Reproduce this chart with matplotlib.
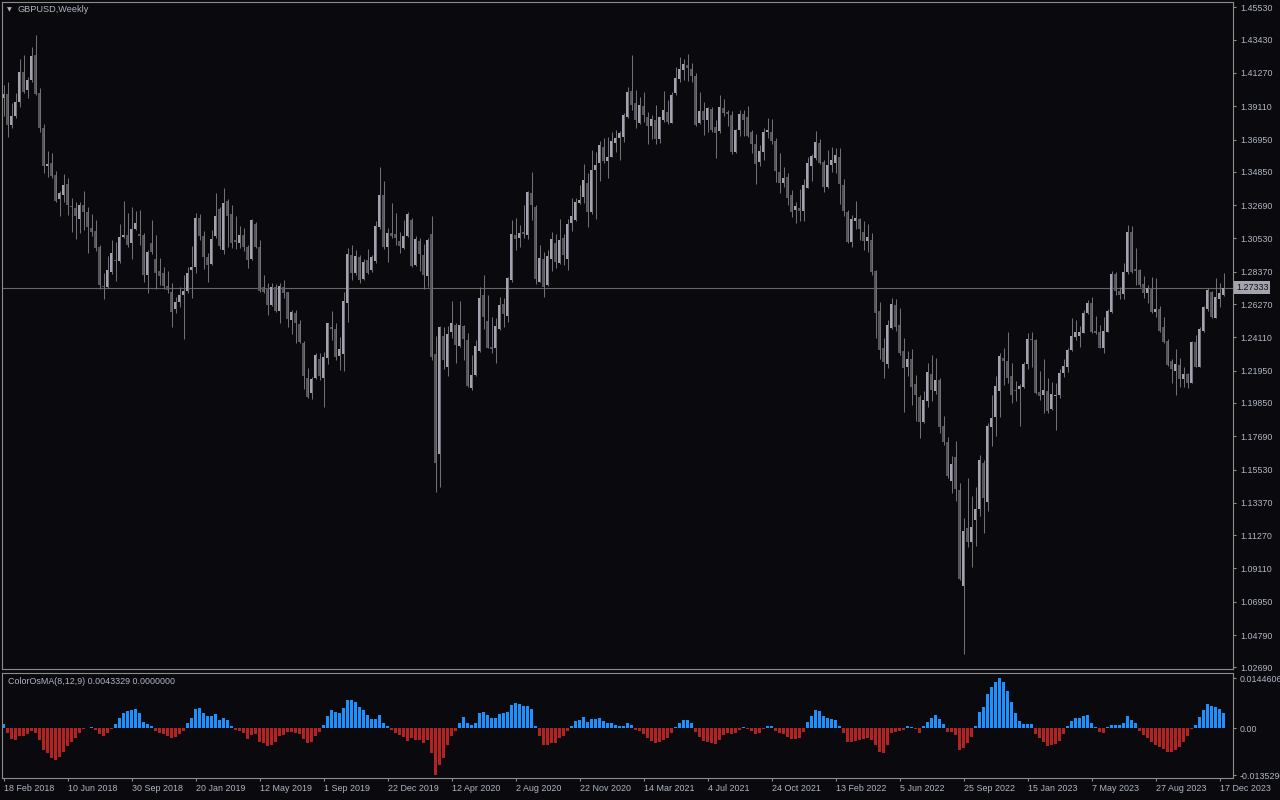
import matplotlib
matplotlib.use("Agg")
import matplotlib.pyplot as plt
import matplotlib.transforms as mtransforms
import numpy as np
import pandas as pd

# GBPUSD weekly bars, first bar is the week of 18 Feb 2018
first_week = "2018-02-18"
symbol_label = "GBPUSD,Weekly"
indicator_label = "ColorOsMA(8,12,9) 0.0043329 0.0000000"
last_price = 1.27333

opens = [
    1.3962, 1.3988, 1.3789, 1.3848, 1.3941, 1.4136, 1.4017, 1.4081, 1.4244, 1.3995,
    1.3768, 1.3525, 1.3540, 1.3465, 1.3311, 1.3337, 1.3406, 1.3263, 1.3248, 1.3179,
    1.3270, 1.3224, 1.3118, 1.3101, 1.2998, 1.2744, 1.2740, 1.2837, 1.2915, 1.2906,
    1.3062, 1.3073, 1.3025, 1.3114, 1.3082, 1.3075, 1.2815, 1.3021, 1.2917, 1.2839,
    1.2828, 1.2744, 1.2705, 1.2597, 1.2640, 1.2686, 1.2712, 1.2848, 1.2870, 1.3183,
    1.3069, 1.2930, 1.2885, 1.3069, 1.3244, 1.2978, 1.3296, 1.3209, 1.3043, 1.3021,
    1.3075, 1.2999, 1.2917, 1.3147, 1.2995, 1.2735, 1.2733, 1.2621, 1.2740, 1.2582,
    1.2735, 1.2703, 1.2523, 1.2567, 1.2495, 1.2372, 1.2145, 1.2047, 1.2149, 1.2270,
    1.2145, 1.2274, 1.2480, 1.2465, 1.2292, 1.2303, 1.2632, 1.2945, 1.2826, 1.2930,
    1.2787, 1.2913, 1.2848, 1.2909, 1.3129, 1.3335, 1.2995, 1.3086, 1.3079, 1.3038,
    1.2993, 1.3069, 1.3172, 1.2880, 1.3036, 1.2945, 1.2809, 1.3081, 1.2300, 1.1653,
    1.2419, 1.2220, 1.2447, 1.2491, 1.2357, 1.2484, 1.2393, 1.2084, 1.2166, 1.2324,
    1.2685, 1.2517, 1.2346, 1.2344, 1.2465, 1.2627, 1.2549, 1.2783, 1.3075, 1.3058,
    1.3097, 1.3075, 1.3346, 1.3259, 1.2772, 1.2919, 1.2750, 1.2919, 1.3025, 1.2895,
    1.3058, 1.2919, 1.3155, 1.3172, 1.3281, 1.3324, 1.3415, 1.3226, 1.3497, 1.3545,
    1.3648, 1.3555, 1.3583, 1.3670, 1.3703, 1.3713, 1.3843, 1.4010, 1.3934, 1.3800,
    1.3912, 1.3839, 1.3783, 1.3822, 1.3698, 1.3822, 1.3876, 1.3804, 1.3995, 1.4088,
    1.4146, 1.4179, 1.4153, 1.4107, 1.3804, 1.3880, 1.3822, 1.3891, 1.3778, 1.3750,
    1.3897, 1.3876, 1.3854, 1.3616, 1.3757, 1.3858, 1.3843, 1.3746, 1.3666, 1.3551,
    1.3616, 1.3746, 1.3746, 1.3687, 1.3486, 1.3410, 1.3454, 1.3335, 1.3237, 1.3248,
    1.3233, 1.3382, 1.3523, 1.3573, 1.3670, 1.3547, 1.3386, 1.3531, 1.3543, 1.3583,
    1.3400, 1.3225, 1.3033, 1.3169, 1.3181, 1.3096, 1.3035, 1.3046, 1.2839, 1.2582,
    1.2342, 1.2240, 1.2474, 1.2622, 1.2492, 1.2320, 1.2219, 1.2273, 1.2108, 1.2023,
    1.1862, 1.2000, 1.2173, 1.2063, 1.2135, 1.1833, 1.1732, 1.1480, 1.1632, 1.1419,
    1.0800, 1.1174, 1.1084, 1.1223, 1.1300, 1.1598, 1.1340, 1.1830, 1.1895, 1.2063,
    1.2280, 1.2258, 1.2157, 1.2068, 1.2079, 1.2090, 1.2240, 1.2400, 1.2394, 1.2054,
    1.2037, 1.2060, 1.1946, 1.2032, 1.2040, 1.2178, 1.2221, 1.2329, 1.2416, 1.2422,
    1.2442, 1.2567, 1.2636, 1.2452, 1.2448, 1.2340, 1.2448, 1.2574, 1.2822, 1.2714,
    1.2693, 1.2833, 1.3093, 1.2855, 1.2848, 1.2755, 1.2697, 1.2729, 1.2578, 1.2595,
    1.2476, 1.2388, 1.2258, 1.2195, 1.2230, 1.2141, 1.2171, 1.2117, 1.2379, 1.2221,
    1.2455, 1.2593, 1.2703, 1.2539, 1.2660, 1.2686,
]

highs = [
    1.4049, 1.4071, 1.3930, 1.3995, 1.4216, 1.4244, 1.4103, 1.4298, 1.4374, 1.4027,
    1.3794, 1.3621, 1.3605, 1.3491, 1.3361, 1.3469, 1.3443, 1.3313, 1.3287, 1.3292,
    1.3361, 1.3259, 1.3211, 1.3170, 1.3010, 1.2826, 1.2939, 1.3043, 1.3028, 1.3144,
    1.3296, 1.3220, 1.3255, 1.3231, 1.3237, 1.3086, 1.2978, 1.3173, 1.3077, 1.2924,
    1.2865, 1.2839, 1.2761, 1.2675, 1.2740, 1.2815, 1.2865, 1.3004, 1.3216, 1.3211,
    1.3101, 1.2956, 1.3108, 1.3350, 1.3259, 1.3380, 1.3309, 1.3270, 1.3198, 1.3134,
    1.3118, 1.3010, 1.3177, 1.3162, 1.3043, 1.2816, 1.2761, 1.2761, 1.2757, 1.2761,
    1.2783, 1.2707, 1.2588, 1.2588, 1.2523, 1.2387, 1.2210, 1.2155, 1.2307, 1.2307,
    1.2313, 1.2506, 1.2582, 1.2502, 1.2415, 1.2703, 1.2989, 1.3010, 1.2978, 1.2945,
    1.2917, 1.2982, 1.2945, 1.3166, 1.3514, 1.3426, 1.3118, 1.3281, 1.3216, 1.3097,
    1.3172, 1.3227, 1.3183, 1.3069, 1.3053, 1.3014, 1.3053, 1.3198, 1.2419, 1.2484,
    1.2480, 1.2484, 1.2649, 1.2506, 1.2649, 1.2491, 1.2437, 1.2296, 1.2393, 1.2735,
    1.2815, 1.2685, 1.2545, 1.2534, 1.2670, 1.2664, 1.2805, 1.3172, 1.3183, 1.3140,
    1.3270, 1.3360, 1.3486, 1.3270, 1.3010, 1.2967, 1.2978, 1.3097, 1.3081, 1.3177,
    1.3081, 1.3177, 1.3313, 1.3313, 1.3400, 1.3536, 1.3475, 1.3627, 1.3616, 1.3685,
    1.3703, 1.3709, 1.3746, 1.3757, 1.3752, 1.3869, 1.4038, 1.4244, 1.4016, 1.3973,
    1.4006, 1.3876, 1.3854, 1.3919, 1.3843, 1.4010, 1.3951, 1.4006, 1.4168, 1.4233,
    1.4218, 1.4250, 1.4189, 1.4129, 1.4006, 1.3941, 1.3908, 1.3908, 1.3822, 1.3984,
    1.3958, 1.3886, 1.3882, 1.3763, 1.3886, 1.3886, 1.3912, 1.3757, 1.3731, 1.3659,
    1.3767, 1.3832, 1.3826, 1.3703, 1.3605, 1.3514, 1.3475, 1.3367, 1.3291, 1.3371,
    1.3436, 1.3584, 1.3601, 1.3750, 1.3696, 1.3562, 1.3628, 1.3648, 1.3643, 1.3639,
    1.3438, 1.3236, 1.3207, 1.3297, 1.3185, 1.3167, 1.3147, 1.3089, 1.2845, 1.2642,
    1.2410, 1.2521, 1.2664, 1.2660, 1.2599, 1.2407, 1.2320, 1.2336, 1.2168, 1.2039,
    1.2061, 1.2242, 1.2295, 1.2275, 1.2146, 1.1900, 1.1766, 1.1643, 1.1737, 1.1464,
    1.1236, 1.1498, 1.1381, 1.1437, 1.1647, 1.1616, 1.1855, 1.2034, 1.2157, 1.2309,
    1.2342, 1.2443, 1.2246, 1.2128, 1.2106, 1.2248, 1.2442, 1.2448, 1.2398, 1.2195,
    1.2268, 1.2149, 1.2119, 1.2113, 1.2204, 1.2268, 1.2344, 1.2535, 1.2524, 1.2485,
    1.2589, 1.2654, 1.2675, 1.2550, 1.2491, 1.2545, 1.2593, 1.2844, 1.2838, 1.2740,
    1.2896, 1.3141, 1.3136, 1.2993, 1.2853, 1.2809, 1.2751, 1.2801, 1.2794, 1.2615,
    1.2545, 1.2398, 1.2268, 1.2333, 1.2275, 1.2217, 1.2178, 1.2390, 1.2426, 1.2481,
    1.2615, 1.2729, 1.2714, 1.2794, 1.2762, 1.2827,
]

lows = [
    1.3848, 1.3709, 1.3768, 1.3833, 1.3908, 1.3995, 1.3962, 1.4071, 1.3984, 1.3746,
    1.3480, 1.3454, 1.3443, 1.3292, 1.3201, 1.3292, 1.3205, 1.3097, 1.3047, 1.3090,
    1.3108, 1.2956, 1.3071, 1.2971, 1.2723, 1.2657, 1.2729, 1.2822, 1.2779, 1.2896,
    1.3054, 1.3000, 1.2921, 1.3108, 1.3010, 1.2772, 1.2697, 1.2952, 1.2723, 1.2751,
    1.2723, 1.2697, 1.2476, 1.2567, 1.2610, 1.2398, 1.2697, 1.2664, 1.2826, 1.3043,
    1.2852, 1.2772, 1.2880, 1.3053, 1.2982, 1.2952, 1.2995, 1.2993, 1.2982, 1.2989,
    1.2973, 1.2863, 1.2913, 1.2989, 1.2707, 1.2701, 1.2556, 1.2614, 1.2577, 1.2502,
    1.2664, 1.2480, 1.2432, 1.2376, 1.2372, 1.2077, 1.2015, 1.2013, 1.2138, 1.2134,
    1.1956, 1.2235, 1.2393, 1.2264, 1.2199, 1.2194, 1.2512, 1.2783, 1.2816, 1.2766,
    1.2783, 1.2820, 1.2837, 1.2896, 1.3112, 1.2982, 1.2902, 1.3053, 1.3010, 1.2956,
    1.2982, 1.3060, 1.2870, 1.2874, 1.2843, 1.2722, 1.2735, 1.2263, 1.1409, 1.1441,
    1.2203, 1.2160, 1.2404, 1.2246, 1.2350, 1.2263, 1.2090, 1.2069, 1.2160, 1.2318,
    1.2463, 1.2339, 1.2311, 1.2246, 1.2458, 1.2476, 1.2512, 1.2772, 1.2978, 1.3000,
    1.3058, 1.3049, 1.3172, 1.2757, 1.2768, 1.2675, 1.2744, 1.2843, 1.2859, 1.2887,
    1.2880, 1.2848, 1.3101, 1.3166, 1.3276, 1.3285, 1.3129, 1.3210, 1.3179, 1.3426,
    1.3540, 1.3447, 1.3579, 1.3612, 1.3562, 1.3677, 1.3832, 1.3886, 1.3767, 1.3796,
    1.3811, 1.3666, 1.3696, 1.3666, 1.3670, 1.3811, 1.3796, 1.3800, 1.3984, 1.4070,
    1.4081, 1.4075, 1.4070, 1.3783, 1.3796, 1.3724, 1.3746, 1.3746, 1.3573, 1.3735,
    1.3850, 1.3783, 1.3599, 1.3605, 1.3720, 1.3720, 1.3713, 1.3605, 1.3406, 1.3523,
    1.3562, 1.3703, 1.3664, 1.3421, 1.3345, 1.3384, 1.3270, 1.3190, 1.3155, 1.3168,
    1.3168, 1.3378, 1.3428, 1.3562, 1.3534, 1.3356, 1.3378, 1.3487, 1.3480, 1.3274,
    1.3201, 1.3024, 1.2999, 1.3111, 1.3044, 1.2979, 1.2968, 1.2816, 1.2410, 1.2273,
    1.2150, 1.2213, 1.2465, 1.2454, 1.2298, 1.1927, 1.2157, 1.1974, 1.1871, 1.1759,
    1.1855, 1.1956, 1.2000, 1.2045, 1.1793, 1.1714, 1.1498, 1.1401, 1.1352, 1.0834,
    1.0353, 1.1051, 1.0921, 1.1057, 1.1252, 1.1144, 1.1285, 1.1705, 1.1770, 1.1895,
    1.2101, 1.2112, 1.1985, 1.2000, 1.1837, 1.2080, 1.2204, 1.2221, 1.2043, 1.2004,
    1.1918, 1.1918, 1.1940, 1.1810, 1.2015, 1.2156, 1.2188, 1.2325, 1.2394, 1.2351,
    1.2437, 1.2563, 1.2442, 1.2433, 1.2340, 1.2312, 1.2444, 1.2567, 1.2684, 1.2660,
    1.2660, 1.2822, 1.2827, 1.2751, 1.2736, 1.2664, 1.2636, 1.2567, 1.2545, 1.2448,
    1.2372, 1.2227, 1.2113, 1.2037, 1.2091, 1.2091, 1.2080, 1.2113, 1.2217, 1.2217,
    1.2448, 1.2584, 1.2535, 1.2535, 1.2610, 1.2682,
]

closes = [
    1.3988, 1.3789, 1.3848, 1.3941, 1.4136, 1.4006, 1.4081, 1.4237, 1.3991, 1.3772,
    1.3525, 1.3534, 1.3458, 1.3296, 1.3350, 1.3400, 1.3270, 1.3259, 1.3201, 1.3270,
    1.3227, 1.3129, 1.3097, 1.2993, 1.2751, 1.2738, 1.2848, 1.2956, 1.2909, 1.3060,
    1.3073, 1.3010, 1.3112, 1.3151, 1.3069, 1.2815, 1.2963, 1.2967, 1.2831, 1.2809,
    1.2744, 1.2718, 1.2577, 1.2640, 1.2683, 1.2712, 1.2826, 1.2865, 1.3183, 1.3071,
    1.2935, 1.2880, 1.3049, 1.3198, 1.3004, 1.3285, 1.3198, 1.3025, 1.3030, 1.3075,
    1.2995, 1.2913, 1.3172, 1.2995, 1.2712, 1.2707, 1.2621, 1.2740, 1.2582, 1.2744,
    1.2696, 1.2528, 1.2573, 1.2502, 1.2383, 1.2160, 1.2021, 1.2140, 1.2296, 1.2162,
    1.2285, 1.2502, 1.2467, 1.2285, 1.2335, 1.2647, 1.2950, 1.2826, 1.2939, 1.2783,
    1.2902, 1.2826, 1.2930, 1.3134, 1.3335, 1.2995, 1.3086, 1.3069, 1.3053, 1.3004,
    1.3069, 1.3211, 1.2876, 1.3049, 1.2952, 1.2815, 1.3043, 1.2285, 1.1597, 1.2480,
    1.2263, 1.2432, 1.2502, 1.2361, 1.2491, 1.2402, 1.2097, 1.2166, 1.2354, 1.2668,
    1.2545, 1.2344, 1.2333, 1.2484, 1.2621, 1.2562, 1.2798, 1.3081, 1.3049, 1.3090,
    1.3081, 1.3356, 1.3270, 1.2787, 1.2924, 1.2735, 1.2939, 1.3049, 1.2902, 1.3043,
    1.2945, 1.3146, 1.3201, 1.3287, 1.3302, 1.3432, 1.3226, 1.3497, 1.3529, 1.3659,
    1.3558, 1.3583, 1.3687, 1.3703, 1.3739, 1.3854, 1.4006, 1.3919, 1.3822, 1.3919,
    1.3854, 1.3783, 1.3828, 1.3698, 1.3839, 1.3886, 1.3811, 1.3984, 1.4092, 1.4153,
    1.4185, 1.4161, 1.4107, 1.3789, 1.3880, 1.3822, 1.3897, 1.3757, 1.3739, 1.3904,
    1.3865, 1.3861, 1.3616, 1.3757, 1.3861, 1.3822, 1.3718, 1.3666, 1.3536, 1.3620,
    1.3746, 1.3757, 1.3687, 1.3493, 1.3410, 1.3443, 1.3317, 1.3226, 1.3263, 1.3231,
    1.3400, 1.3540, 1.3588, 1.3681, 1.3540, 1.3389, 1.3531, 1.3563, 1.3594, 1.3409,
    1.3230, 1.3029, 1.3181, 1.3185, 1.3111, 1.3035, 1.3062, 1.2832, 1.2570, 1.2331,
    1.2253, 1.2492, 1.2626, 1.2481, 1.2307, 1.2213, 1.2273, 1.2090, 1.2034, 1.1862,
    1.2005, 1.2184, 1.2072, 1.2135, 1.1826, 1.1732, 1.1513, 1.1592, 1.1424, 1.0843,
    1.1156, 1.1084, 1.1180, 1.1296, 1.1616, 1.1368, 1.1837, 1.1889, 1.2094, 1.2291,
    1.2258, 1.2150, 1.2034, 1.2063, 1.2097, 1.2240, 1.2400, 1.2394, 1.2048, 1.2033,
    1.2069, 1.1935, 1.2041, 1.2036, 1.2178, 1.2227, 1.2329, 1.2420, 1.2444, 1.2448,
    1.2567, 1.2636, 1.2448, 1.2442, 1.2344, 1.2452, 1.2582, 1.2822, 1.2714, 1.2686,
    1.2833, 1.3093, 1.2833, 1.2844, 1.2751, 1.2697, 1.2729, 1.2574, 1.2593, 1.2455,
    1.2383, 1.2232, 1.2204, 1.2238, 1.2139, 1.2171, 1.2117, 1.2379, 1.2221, 1.2465,
    1.2606, 1.2719, 1.2545, 1.2671, 1.2697, 1.27333,
]

# OsMA(8,12,9) histogram
osma = [
    0.00120, -0.00148, -0.00311, -0.00340, -0.00225, -0.00216, -0.00168, -0.00081, -0.00148, -0.00340,
    -0.00627, -0.00723, -0.00848, -0.00915, -0.00838, -0.00675, -0.00513, -0.00388, -0.00292, -0.00129,
    -0.00030, 0.00010, 0.00030, -0.00053, -0.00168, -0.00225, -0.00148, -0.00034, 0.00120, 0.00283,
    0.00426, 0.00484, 0.00522, 0.00541, 0.00445, 0.00187, 0.00120, 0.00062, -0.00072, -0.00129,
    -0.00177, -0.00225, -0.00273, -0.00244, -0.00177, -0.00081, 0.00139, 0.00283, 0.00541, 0.00570,
    0.00445, 0.00350, 0.00350, 0.00398, 0.00235, 0.00283, 0.00235, 0.00062, -0.00053, -0.00081,
    -0.00148, -0.00311, -0.00196, -0.00177, -0.00388, -0.00436, -0.00503, -0.00484, -0.00388, -0.00216,
    -0.00196, -0.00101, -0.00101, -0.00129, -0.00168, -0.00321, -0.00436, -0.00388, -0.00216, -0.00101,
    0.00091, 0.00350, 0.00522, 0.00474, 0.00445, 0.00570, 0.00810, 0.00810, 0.00762, 0.00618,
    0.00522, 0.00378, 0.00254, 0.00254, 0.00378, 0.00158, 0.00062, -0.00053, -0.00129, -0.00196,
    -0.00263, -0.00359, -0.00292, -0.00340, -0.00340, -0.00417, -0.00340, -0.00704, -0.013529, -0.01059,
    -0.00848, -0.00484, -0.00225, -0.00072, 0.00158, 0.00331, 0.00158, 0.00091, 0.00158, 0.00426,
    0.00474, 0.00378, 0.00283, 0.00283, 0.00398, 0.00426, 0.00474, 0.00666, 0.00733, 0.00695,
    0.00637, 0.00637, 0.00541, 0.00062, -0.00225, -0.00484, -0.00484, -0.00417, -0.00417, -0.00292,
    -0.00225, -0.00072, 0.00062, 0.00216, 0.00235, 0.00311, 0.00187, 0.00254, 0.00263, 0.00283,
    0.00216, 0.00139, 0.00139, 0.00091, 0.00072, 0.00072, 0.00158, 0.00100, -0.00040, -0.00081,
    -0.00168, -0.00292, -0.00359, -0.00417, -0.00388, -0.00340, -0.00273, -0.00129, 0.00043, 0.00158,
    0.00235, 0.00235, 0.00158, -0.00101, -0.00244, -0.00369, -0.00388, -0.00436, -0.00455, -0.00340,
    -0.00196, -0.00129, -0.00168, -0.00129, -0.00053, 0.00043, -0.00034, -0.00072, -0.00168, -0.00129,
    -0.00034, 0.00062, 0.00062, -0.00072, -0.00148, -0.00177, -0.00244, -0.00321, -0.00311, -0.00273,
    -0.00101, 0.00187, 0.00350, 0.00522, 0.00503, 0.00350, 0.00283, 0.00263, 0.00235, 0.00062,
    -0.00148, -0.00407, -0.00407, -0.00359, -0.00340, -0.00321, -0.00292, -0.00340, -0.00484, -0.00675,
    -0.00723, -0.00484, -0.00148, -0.00101, -0.00072, -0.00053, 0.00062, 0.00024, -0.00034, -0.00129,
    0.00062, 0.00187, 0.00283, 0.00378, 0.00254, 0.00120, -0.00101, -0.00120, -0.00196, -0.00627,
    -0.00560, -0.00417, -0.00244, 0.00062, 0.00474, 0.00599, 0.00982, 0.01174, 0.01317, 0.0144606,
    0.01327, 0.01078, 0.00762, 0.00426, 0.00216, 0.00120, 0.00120, 0.00120, -0.00177, -0.00292,
    -0.00407, -0.00503, -0.00484, -0.00455, -0.00359, -0.00168, 0.00062, 0.00216, 0.00283, 0.00302,
    0.00350, 0.00378, 0.00158, 0.00043, -0.00101, -0.00148, 0.00043, 0.00091, 0.00091, 0.00091,
    0.00158, 0.00350, 0.00235, 0.00158, -0.00072, -0.00196, -0.00292, -0.00388, -0.00484, -0.00551,
    -0.00608, -0.00675, -0.00675, -0.00627, -0.00551, -0.00388, -0.00225, -0.00030, 0.00091, 0.00331,
    0.00522, 0.00695, 0.00647, 0.00618, 0.00541, 0.00433,
]

price_ticks = [1.45530, 1.43430, 1.41270, 1.39110, 1.36950, 1.34850, 1.32690,
               1.30530, 1.28370, 1.26270, 1.24110, 1.21950, 1.19850, 1.17690,
               1.15530, 1.13370, 1.11270, 1.09110, 1.06950, 1.04790, 1.02690]

osma_ticks = [0.0144606, 0.0, -0.0135290]
osma_tick_labels = ["0.0144606", "0.00", "-0.0135290"]

date_labels = ["18 Feb 2018", "10 Jun 2018", "30 Sep 2018", "20 Jan 2019",
               "12 May 2019", "1 Sep 2019", "22 Dec 2019", "12 Apr 2020",
               "2 Aug 2020", "22 Nov 2020", "14 Mar 2021", "4 Jul 2021",
               "24 Oct 2021", "13 Feb 2022", "5 Jun 2022", "25 Sep 2022",
               "15 Jan 2023", "7 May 2023", "27 Aug 2023", "17 Dec 2023"]

BG = "#0a0a0e"
FRAME = "#8c8c8c"
TEXT = "#b0b6c2"
BULL = "#a2a2b0"
BEAR = "#56565c"
WICK = "#707076"
UP_HIST = "#1e90ff"
DN_HIST = "#b52222"

# 4 px per bar; bar i spans pixels 2+4i .. 5+4i inside the axes
XLIM = (-0.375, 307.375)


def draw_candles(ax, x, o, h, l, c):
    up = c >= o
    colors = np.where(up, BULL, BEAR)
    ax.vlines(x, l, h, colors=WICK, linewidth=0.72)
    lo = np.minimum(o, c)
    height = np.abs(c - o)
    min_h = 0.0006
    small = height < min_h
    lo = np.where(small, (o + c) / 2 - min_h / 2, lo)
    height = np.where(small, min_h, height)
    ax.bar(x, height, bottom=lo, width=0.75, color=colors, linewidth=0)


def style_frame(ax):
    ax.set_facecolor(BG)
    for sp in ax.spines.values():
        sp.set_color(FRAME)
        sp.set_linewidth(0.8)


def main():
    plt.rcParams["font.family"] = ["Liberation Sans", "DejaVu Sans"]
    plt.rcParams["font.size"] = 6.4

    o = np.array(opens)
    h = np.array(highs)
    l = np.array(lows)
    c = np.array(closes)
    hist = np.array(osma)
    n = len(c)
    x = np.arange(n)

    weeks = pd.date_range(first_week, periods=n, freq="7D")
    tick_pos = weeks.get_indexer(pd.to_datetime(date_labels, format="%d %b %Y"))

    fig = plt.figure(figsize=(12.8, 8), dpi=100, facecolor=BG)
    ax = fig.add_axes([2 / 1280, 131 / 800, 1231 / 1280, 667 / 800])
    ax2 = fig.add_axes([2 / 1280, 22 / 800, 1231 / 1280, 105 / 800])

    # price panel
    style_frame(ax)
    draw_candles(ax, x, o, h, l, c)
    ax.axhline(last_price, color="#666666", linewidth=0.8, zorder=0)
    ax.set_xlim(*XLIM)
    ax.set_ylim(1.02586, 1.45874)
    ax.set_xticks([])
    ax.yaxis.tick_right()
    ax.set_yticks(price_ticks)
    ax.set_yticklabels([f"{v:.5f}" for v in price_ticks])
    ax.tick_params(axis="y", length=2.2, width=0.8, color=FRAME,
                   labelcolor=TEXT, pad=2.9)

    blend = mtransforms.blended_transform_factory(ax.transAxes, ax.transData)
    ax.text(1.0025, last_price, f"{last_price:.5f}", transform=blend,
            ha="left", va="center", color="#101014", fontsize=6.4,
            bbox=dict(facecolor="#a4a4ae", edgecolor="none", pad=1.3))

    fig.text(9 / 1280, 1 - 10 / 800, "\u25bc", family="DejaVu Sans",
             fontsize=4.5, color=TEXT, ha="center", va="center")
    fig.text(18 / 1280, 1 - 10 / 800, symbol_label, color=TEXT,
             ha="left", va="center", fontsize=6.6)

    # OsMA panel
    style_frame(ax2)
    hist_colors = np.where(hist >= 0, UP_HIST, DN_HIST)
    ax2.bar(x, hist, width=0.75, color=hist_colors, linewidth=0)
    ax2.set_xlim(*XLIM)
    ax2.set_ylim(-0.01429, 0.0159)
    ax2.yaxis.tick_right()
    ax2.set_yticks(osma_ticks)
    ax2.set_yticklabels(osma_tick_labels)
    ax2.tick_params(axis="y", length=2.2, width=0.8, color=FRAME,
                    labelcolor=TEXT, pad=2.9)

    ax2.set_xticks(tick_pos)
    ax2.set_xticklabels(date_labels)
    ax2.tick_params(axis="x", length=2.2, width=0.8, color=FRAME,
                    labelcolor=TEXT, pad=1.8)
    shift = mtransforms.ScaledTranslation(0.5 / 100, 0, fig.dpi_scale_trans)
    for lab in ax2.get_xticklabels():
        lab.set_horizontalalignment("left")
        lab.set_transform(lab.get_transform() + shift)

    fig.text(8 / 1280, 1 - 681 / 800, indicator_label, color=TEXT,
             ha="left", va="center", fontsize=6.4)

    fig.savefig("out.png", dpi=100, facecolor=BG)
    plt.close(fig)


if __name__ == "__main__":
    main()
